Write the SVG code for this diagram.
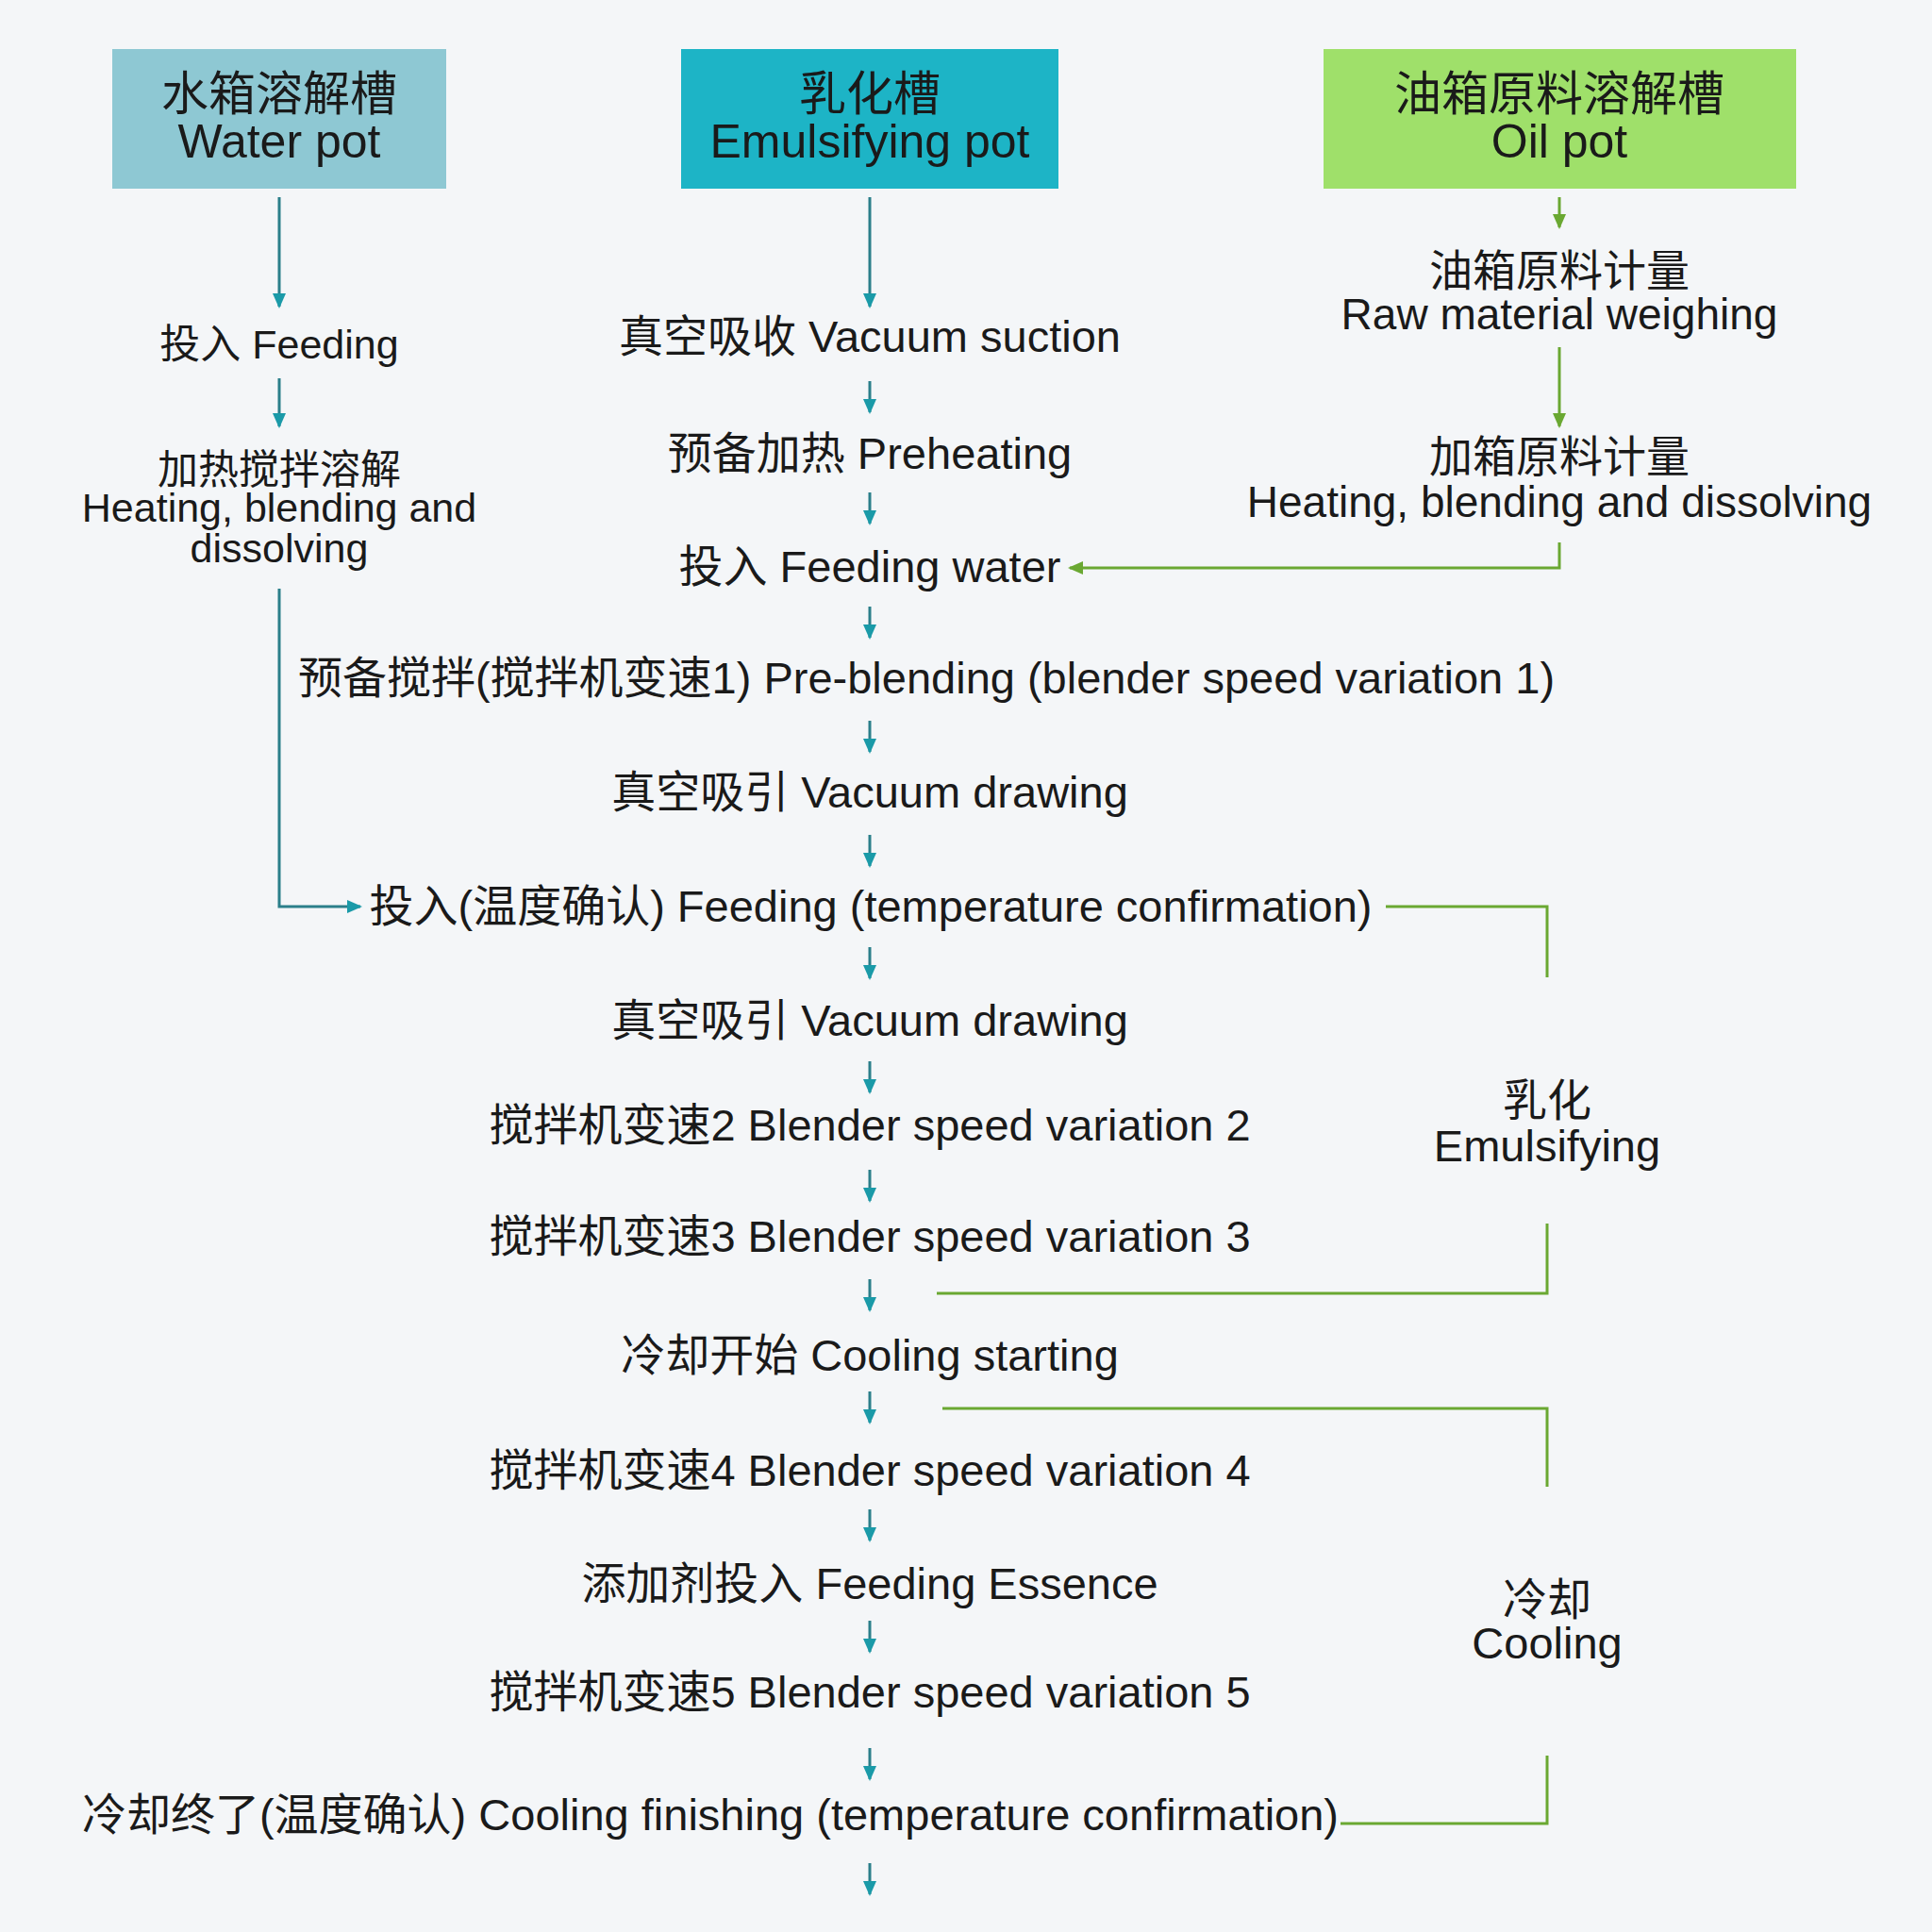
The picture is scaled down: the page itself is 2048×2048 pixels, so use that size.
<svg xmlns="http://www.w3.org/2000/svg" width="2048" height="2048" viewBox="0 0 2048 2048">
<style>
text{font-family:"Liberation Sans","Noto Sans CJK SC",sans-serif;fill:#1a1a1a;text-anchor:middle}
.h{font-size:50px}.t{font-size:47px}.s{font-size:43px}.r{font-size:46px}
.b{stroke:#2b7f8a;stroke-width:3;fill:none}
.g{stroke:#6aa832;stroke-width:3;fill:none}
</style>
<defs>
<marker id="ab" markerWidth="16" markerHeight="14" refX="14" refY="7" orient="auto" markerUnits="userSpaceOnUse" viewBox="0 0 16 14"><path d="M0,0L16,7L0,14z" fill="#1a9aa8"/></marker>
<marker id="ag" markerWidth="16" markerHeight="14" refX="14" refY="7" orient="auto" markerUnits="userSpaceOnUse" viewBox="0 0 16 14"><path d="M0,0L16,7L0,14z" fill="#6aa832"/></marker>
</defs>
<rect width="2048" height="2048" fill="#f4f6f8"/>
<g id="water-pot"><rect x="119" y="52" width="354" height="148" fill="#8ec8d3"/><text class="h" x="296" y="117">水箱溶解槽</text><text class="h" x="296" y="167">Water pot</text></g>
<g id="emulsifying-pot"><rect x="722" y="52" width="400" height="148" fill="#1db4c6"/><text class="h" x="922" y="117">乳化槽</text><text class="h" x="922" y="167">Emulsifying pot</text></g>
<g id="oil-pot"><rect x="1403" y="52" width="501" height="148" fill="#9fe06a"/><text class="h" x="1653" y="117">油箱原料溶解槽</text><text class="h" x="1653" y="167">Oil pot</text></g>
<g id="left-steps">
<text class="s" x="296" y="380">投入 Feeding</text>
<text class="s" x="296" y="513">加热搅拌溶解</text><text class="s" x="296" y="553">Heating, blending and</text><text class="s" x="296" y="596">dissolving</text>
</g>
<g id="right-steps">
<text class="r" x="1653" y="303">油箱原料计量</text><text class="r" x="1653" y="349">Raw material weighing</text>
<text class="r" x="1653" y="500">加箱原料计量</text><text class="r" x="1653" y="548">Heating, blending and dissolving</text>
</g>
<g id="center-steps">
<text class="t" x="922" y="373">真空吸收 Vacuum suction</text>
<text class="t" x="922" y="497">预备加热 Preheating</text>
<text class="t" x="922" y="617">投入 Feeding water</text>
<text class="t" x="982" y="735">预备搅拌(搅拌机变速1) Pre-blending (blender speed variation 1)</text>
<text class="t" x="922" y="856">真空吸引 Vacuum drawing</text>
<text class="t" x="923" y="977">投入(温度确认) Feeding (temperature confirmation)</text>
<text class="t" x="922" y="1098">真空吸引 Vacuum drawing</text>
<text class="t" x="922" y="1209">搅拌机变速2 Blender speed variation 2</text>
<text class="t" x="922" y="1327">搅拌机变速3 Blender speed variation 3</text>
<text class="t" x="922" y="1453">冷却开始 Cooling starting</text>
<text class="t" x="922" y="1575">搅拌机变速4 Blender speed variation 4</text>
<text class="t" x="922" y="1695">添加剂投入 Feeding Essence</text>
<text class="t" x="922" y="1810">搅拌机变速5 Blender speed variation 5</text>
<text class="t" x="753" y="1940">冷却终了(温度确认) Cooling finishing (temperature confirmation)</text>
</g>
<g id="phase-labels">
<text class="t" x="1640" y="1183">乳化</text><text class="t" x="1640" y="1231">Emulsifying</text>
<text class="t" x="1640" y="1712">冷却</text><text class="t" x="1640" y="1758">Cooling</text>
</g>
<g id="connectors">
<path class="b" marker-end="url(#ab)" d="M296,209V325"/>
<path class="b" marker-end="url(#ab)" d="M296,401V452"/>
<path class="b" marker-end="url(#ab)" d="M296,624V961H382"/>
<path class="b" marker-end="url(#ab)" d="M922,209V325"/>
<path class="b" marker-end="url(#ab)" d="M922,404V437"/>
<path class="b" marker-end="url(#ab)" d="M922,522V555"/>
<path class="b" marker-end="url(#ab)" d="M922,643V676"/>
<path class="b" marker-end="url(#ab)" d="M922,764V797"/>
<path class="b" marker-end="url(#ab)" d="M922,885V918"/>
<path class="b" marker-end="url(#ab)" d="M922,1004V1037"/>
<path class="b" marker-end="url(#ab)" d="M922,1125V1158"/>
<path class="b" marker-end="url(#ab)" d="M922,1240V1273"/>
<path class="b" marker-end="url(#ab)" d="M922,1356V1389"/>
<path class="b" marker-end="url(#ab)" d="M922,1475V1508"/>
<path class="b" marker-end="url(#ab)" d="M922,1600V1633"/>
<path class="b" marker-end="url(#ab)" d="M922,1718V1751"/>
<path class="b" marker-end="url(#ab)" d="M922,1853V1886"/>
<path class="b" marker-end="url(#ab)" d="M922,1975V2008"/>
<path class="g" marker-end="url(#ag)" d="M1653,209V241"/>
<path class="g" marker-end="url(#ag)" d="M1653,368V452"/>
<path class="g" marker-end="url(#ag)" d="M1653,575V602H1134"/>
<path class="g" d="M1469,961H1640V1036"/>
<path class="g" d="M1640,1297V1371H993"/>
<path class="g" d="M999,1493H1640V1576"/>
<path class="g" d="M1640,1861V1933H1421"/>
</g>
</svg>
